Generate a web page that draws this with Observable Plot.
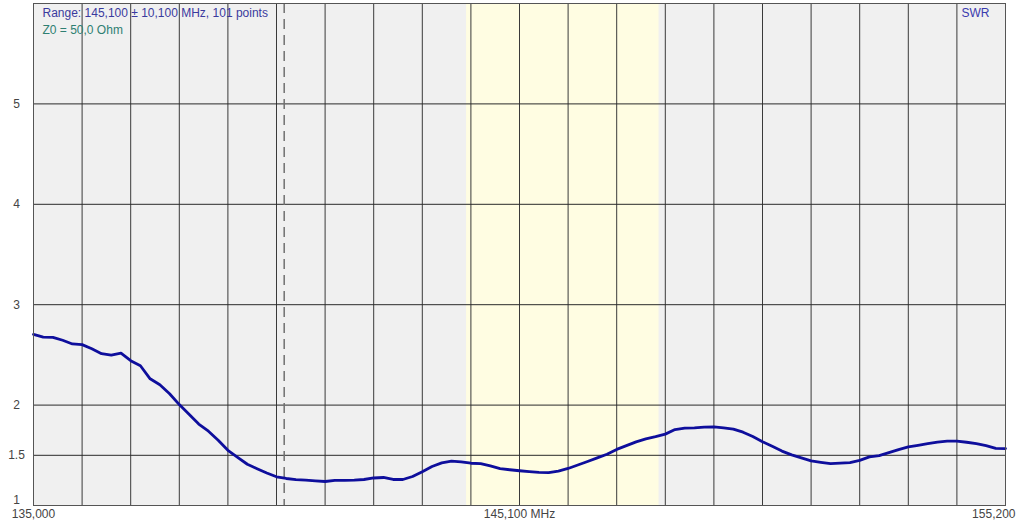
<!DOCTYPE html>
<html>
<head>
<meta charset="utf-8">
<script src="https://cdn.jsdelivr.net/npm/d3@7"></script>
<script src="https://cdn.jsdelivr.net/npm/@observablehq/plot@0.6"></script>
<style>
  html, body { margin: 0; padding: 0; background: #ffffff; }
  #chart svg { display: block; font-family: "Liberation Sans", Arial, sans-serif; }
</style>
</head>
<body>
<div id="chart"></div>
<script>
// Sweep definition: 145.100 ± 10.100 MHz, 101 points
const startMHz = 135.0;
const stopMHz = 155.2;
const nPoints = 101;
const freqs = d3.range(nPoints).map(i => startMHz + i * (stopMHz - startMHz) / (nPoints - 1));

// SWR values
const swr = [
  2.705, 2.677, 2.675, 2.646, 2.609, 2.602, 2.561, 2.512, 2.497, 2.517,
  2.442, 2.392, 2.262, 2.203, 2.113, 2.005, 1.908, 1.811, 1.740, 1.650,
  1.550, 1.480, 1.411, 1.367, 1.324, 1.286, 1.269, 1.258, 1.252, 1.245,
  1.239, 1.250, 1.251, 1.253, 1.259, 1.274, 1.279, 1.259, 1.259, 1.289,
  1.337, 1.389, 1.424, 1.441, 1.434, 1.421, 1.418, 1.394, 1.367, 1.356,
  1.346, 1.338, 1.329, 1.327, 1.343, 1.369, 1.403, 1.438, 1.474, 1.510,
  1.559, 1.596, 1.634, 1.664, 1.685, 1.711, 1.756, 1.770, 1.773, 1.780,
  1.783, 1.773, 1.761, 1.730, 1.687, 1.636, 1.589, 1.542, 1.504, 1.474,
  1.444, 1.430, 1.417, 1.422, 1.427, 1.449, 1.484, 1.497, 1.526, 1.557,
  1.584, 1.600, 1.617, 1.631, 1.641, 1.641, 1.630, 1.616, 1.596, 1.569,
  1.567
];

// Grid / ticks
const xGrid = d3.range(21).map(i => startMHz + i * (stopMHz - startMHz) / 20);
const yGrid = [1.5, 2, 3, 4, 5];
const yTickLabels = [1.5, 2, 3, 4, 5];
const yBottomLabel = [1];
const xTickLabels = [
  {f: 135.0, label: "135,000"},
  {f: 145.1, label: "145,100 MHz"},
  {f: 155.2, label: "155,200"}
];
const band = [{from: 144.0, to: 148.0}];
const marker = [140.21];

const data = freqs.map((f, i) => ({f, swr: swr[i]}));

const chart = Plot.plot({
  width: 1024,
  height: 521,
  marginLeft: 33,
  marginRight: 19,
  marginTop: 3,
  marginBottom: 16,
  style: {background: "#ffffff", fontFamily: "'Liberation Sans', Arial, sans-serif", fontSize: "12px"},
  x: {domain: [startMHz, stopMHz], axis: null},
  y: {domain: [1, 6], axis: null},
  marks: [
    Plot.frame({fill: "#f0f0f0", stroke: "none"}),
    Plot.rect(band, {x1: "from", x2: "to", fill: "#fffde2"}),
    Plot.ruleX(xGrid, {stroke: "#3a3a3a", strokeWidth: 1}),
    Plot.ruleY(yGrid, {stroke: "#2a2a2a", strokeWidth: 1}),
    Plot.ruleX(marker, {stroke: "#707070", strokeWidth: 1.5, strokeDasharray: "10,6"}),
    Plot.line(data, {x: "f", y: "swr", stroke: "#0e0e9c", strokeWidth: 2.8, curve: "linear"}),
    Plot.frame({stroke: "#555555", strokeWidth: 1}),
    Plot.text(yTickLabels, {x: startMHz, y: d => d, text: d => String(d), dx: -17, textAnchor: "middle", fill: "#444444", fontSize: 12}),
    Plot.text(yBottomLabel, {x: startMHz, y: d => d, text: d => String(d), dx: -17, dy: -5, textAnchor: "middle", fill: "#444444", fontSize: 12}),
    Plot.text(xTickLabels.slice(0, 2), {x: "f", y: 1, text: "label", dy: 9, textAnchor: "middle", fill: "#444444", fontSize: 12}),
    Plot.text(xTickLabels.slice(2), {x: "f", y: 1, text: "label", dy: 9, dx: 10, textAnchor: "end", fill: "#444444", fontSize: 12}),
    Plot.text(["Range: 145,100 \u00b1 10,100 MHz, 101 points"], {frameAnchor: "top-left", lineAnchor: "top", dx: 9, dy: 5, textAnchor: "start", fill: "#3a3a9e", fontSize: 12}),
    Plot.text(["Z0 = 50,0 Ohm"], {frameAnchor: "top-left", lineAnchor: "top", dx: 9, dy: 22, textAnchor: "start", fill: "#2e7f72", fontSize: 12}),
    Plot.text(["SWR"], {frameAnchor: "top-right", lineAnchor: "top", dx: -16, dy: 5, textAnchor: "end", fill: "#3a3aae", fontSize: 12})
  ]
});
document.getElementById("chart").appendChild(chart);
</script>
</body>
</html>
